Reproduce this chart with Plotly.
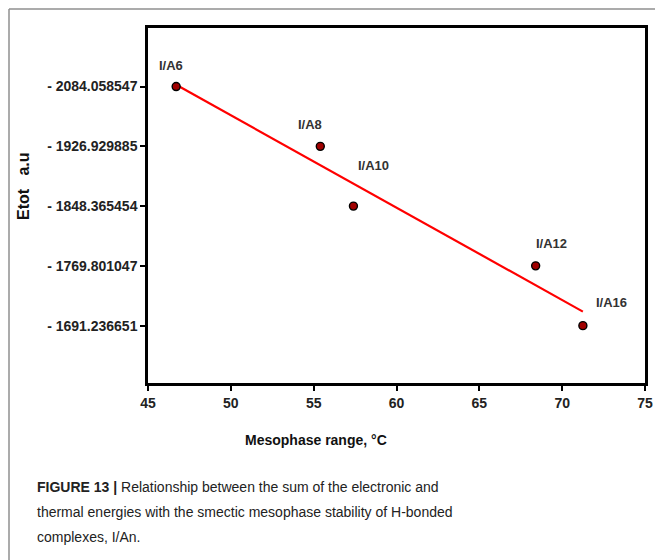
import numpy as np
import plotly.graph_objects as go

# ---- data ----
complexes = ["I/A6", "I/A8", "I/A10", "I/A12", "I/A16"]
mesophase_range = [46.7, 55.4, 57.4, 68.4, 71.25]
etot = [-2084.058547, -1926.929885, -1848.365454, -1769.801047, -1691.236651]
etot_tick_labels = ["- 2084.058547", "- 1926.929885", "- 1848.365454",
                    "- 1769.801047", "- 1691.236651"]
x_ticks = [45, 50, 55, 60, 65, 70, 75]

# label offsets (pixels) relative to each point: style only
label_dx = [-5, -10, 20, 16, 29]
label_dy = [21, 22, 41, 22, 23]

# the y axis is drawn as evenly spaced levels (one per energy value)
levels = [sum(1 for e2 in etot if e2 > e) for e in etot]

# linear trend line through the points (in level space)
slope, intercept = np.polyfit(mesophase_range, levels, 1)
x_fit = np.array([min(mesophase_range), max(mesophase_range)])
y_fit = slope * x_fit + intercept

W, H = 655, 560
L, R, T, B = 148, 10, 28, 177
pw, ph = W - L - R, H - T - B


def px(x):
    return (x - L) / pw


def py(y):
    return (H - B - y) / ph


fig = go.Figure()
fig.add_trace(go.Scatter(x=x_fit, y=y_fit, mode="lines",
                         line=dict(color="#ff0000", width=2.2),
                         hoverinfo="skip", showlegend=False))
fig.add_trace(go.Scatter(x=mesophase_range, y=levels, mode="markers",
                         marker=dict(size=8, color="#a00000",
                                     line=dict(color="#000000", width=1.4)),
                         text=complexes, showlegend=False))

annotations = []
for name, x, y, dx, dy in zip(complexes, mesophase_range, levels, label_dx, label_dy):
    annotations.append(dict(x=x, y=y, xref="x", yref="y", text=name,
                            showarrow=False, xshift=dx, yshift=dy,
                            xanchor="center", yanchor="middle",
                            font=dict(family="Liberation Sans, Arial", size=13,
                                      color="#333333", weight="bold")))

annotations.append(dict(x=px(316), y=py(440), xref="paper", yref="paper",
                        xanchor="center", yanchor="middle",
                        text="<b>Mesophase range, °C</b>", showarrow=False,
                        font=dict(family="Liberation Sans, Arial", size=14, color="#111111")))
annotations.append(dict(x=px(23), y=py(186), xref="paper", yref="paper",
                        xanchor="center", yanchor="middle",
                        text="<b>Etot   a.u</b>", textangle=-90, showarrow=False,
                        font=dict(family="Liberation Sans, Arial", size=16, color="#111111")))

caption_lines = [
    "<b>FIGURE 13 |</b> Relationship between the sum of the electronic and",
    "thermal energies with the smectic mesophase stability of H-bonded",
    "complexes, I/An.",
]
for i, line in enumerate(caption_lines):
    annotations.append(dict(x=px(35), y=py(487 + 25 * i), xref="paper", yref="paper",
                            xanchor="left", yanchor="middle", text=line, showarrow=False,
                            font=dict(family="Liberation Sans, Arial", size=14, color="#222222")))

shapes = [
    dict(type="line", xref="paper", yref="paper", x0=px(9), x1=px(660), y0=py(9), y1=py(9),
         line=dict(color="#8f8f8f", width=1.5)),
    dict(type="line", xref="paper", yref="paper", x0=px(9), x1=px(9), y0=py(9), y1=py(565),
         line=dict(color="#8f8f8f", width=1.5)),
]

fig.update_layout(
    width=W, height=H,
    margin=dict(l=L, r=R, t=T, b=B, autoexpand=False),
    paper_bgcolor="white", plot_bgcolor="white",
    annotations=annotations, shapes=shapes,
    showlegend=False,
    xaxis=dict(range=[45, 75], tickvals=x_ticks, showgrid=False, zeroline=False,
               automargin=False,
               showline=True, linecolor="black", linewidth=2.5, mirror=True,
               ticks="outside", ticklen=5, tickwidth=1.5, tickcolor="black",
               tickfont=dict(family="Liberation Sans, Arial", size=14, color="#222222", weight="bold")),
    yaxis=dict(range=[-0.96, 4.98], tickvals=sorted(levels, reverse=True),
               ticktext=[etot_tick_labels[levels.index(v)] for v in sorted(levels, reverse=True)],
               showgrid=False, zeroline=False, automargin=False,
               showline=True, linecolor="black", linewidth=2.5, mirror=True,
               ticks="outside", ticklen=5, tickwidth=1.5, tickcolor="black",
               tickfont=dict(family="Liberation Sans, Arial", size=14, color="#222222", weight="bold")),
)

fig.write_html("out.html", config={"displayModeBar": False},
               post_script="document.body.style.margin='0px';document.body.style.padding='0px';")
